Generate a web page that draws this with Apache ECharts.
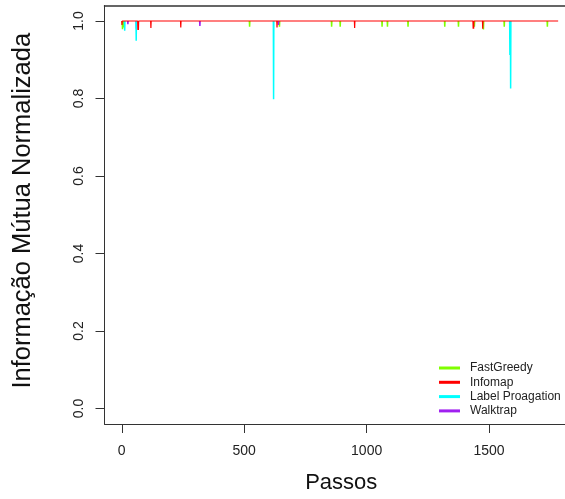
<!DOCTYPE html>
<html>
<head>
<meta charset="utf-8">
<style>
  html, body { margin: 0; padding: 0; background: #fff; }
  #chart { width: 565px; height: 499px; }
</style>
<script src="https://cdn.jsdelivr.net/npm/echarts@6/dist/echarts.min.js"></script>
</head>
<body>
<div id="chart"></div>
<script>
// Normalized mutual information per step, for four community detection methods.
// Every series sits at 1.0 except for the listed dips: [step, value].
const lastStep = 1782;
const seriesNames = ['FastGreedy', 'Infomap', 'Label Proagation', 'Walktrap'];
const seriesColors = ['#7FFF00', '#FF0000', '#00FFFF', '#A020F0'];

const fastGreedyDips = [
  [3, 0.979], [7, 0.983], [522, 0.985], [644, 0.985], [857, 0.985], [892, 0.985],
  [1063, 0.985], [1085, 0.985], [1169, 0.985], [1319, 0.985], [1375, 0.985],
  [1440, 0.985], [1477, 0.978], [1562, 0.985], [1738, 0.985]
];
const infomapDips = [
  [1, 0.99], [66, 0.977], [68, 0.977], [119, 0.982], [241, 0.983], [634, 0.983],
  [951, 0.982], [1435, 0.98], [1437, 0.98], [1474, 0.98]
];
const labelPropDips = [
  [12, 0.975], [59, 0.949], [620, 0.798], [1585, 0.912], [1588, 0.826]
];
const walktrapDips = [
  [25, 0.992], [60, 0.98], [319, 0.987], [640, 0.99]
];

const xTicks = [0, 500, 1000, 1500];
const yTicks = [0, 0.2, 0.4, 0.6, 0.8, 1.0];

// Full line along the 1.0 baseline with the dips in place.
function buildLine(dips) {
  const pts = [[0, 1]];
  dips.forEach(([s, v]) => {
    pts.push([s - 1, 1], [s, v], [s + 1, 1]);
  });
  pts.push([lastStep, 1]);
  return pts;
}

// Only the dips, as separate short segments (the baseline itself is shared).
function buildDipSegments(dips) {
  const pts = [];
  dips.forEach(([s, v]) => {
    pts.push([s - 1, 1], [s, v], [s + 1, 1], null);
  });
  return pts;
}

const dipsByName = {
  'FastGreedy': fastGreedyDips,
  'Infomap': infomapDips,
  'Label Proagation': labelPropDips,
  'Walktrap': walktrapDips
};

// Drawing order: Infomap last, its full line carries the baseline.
const drawOrder = ['FastGreedy', 'Walktrap', 'Label Proagation', 'Infomap'];

const font = "'Liberation Sans', Arial, sans-serif";
const chart = echarts.init(document.getElementById('chart'), null, { renderer: 'canvas' });

const axisColor = '#333';

chart.setOption({
  animation: false,
  backgroundColor: '#fff',
  color: seriesColors,
  grid: { left: 104.5, top: 5.5, right: 0, bottom: 74.5, show: false },
  legend: {
    data: seriesNames.map((n, i) => ({ name: n, itemStyle: { color: seriesColors[i] } })),
    orient: 'vertical',
    left: 439, top: 362, padding: 0,
    itemWidth: 21, itemHeight: 3, itemGap: 2.3,
    icon: 'rect',
    selectedMode: false,
    textStyle: { fontFamily: font, fontSize: 12, color: '#222', lineHeight: 12, padding: [0, 0, 0, 5] }
  },
  xAxis: [{
    type: 'value',
    min: -70.5, max: 1810,
    name: 'Passos', nameLocation: 'middle', nameGap: 48,
    nameTextStyle: { fontFamily: font, fontSize: 22, color: '#111', padding: [0, 0, 0, 13] },
    axisLine: { show: true, onZero: false, lineStyle: { color: axisColor, width: 1 } },
    axisTick: { show: true, customValues: xTicks, length: 9, lineStyle: { color: axisColor } },
    axisLabel: {
      customValues: xTicks, margin: 20, fontFamily: font, fontSize: 14, color: '#222',
      formatter: v => String(v)
    },
    splitLine: { show: false }
  }, {
    // top edge of the plot box
    type: 'value', position: 'top',
    min: -70.5, max: 1810,
    axisLine: { show: true, onZero: false, lineStyle: { color: axisColor, width: 1.5 } },
    axisTick: { show: false }, axisLabel: { show: false }, splitLine: { show: false }
  }],
  yAxis: {
    type: 'value',
    min: -0.04, max: 1.04,
    name: 'Informação Mútua Normalizada', nameLocation: 'middle', nameGap: 69,
    nameTextStyle: { fontFamily: font, fontSize: 25.5, color: '#111', padding: [0, 0, 0, 8] },
    axisLine: { show: true, onZero: false, lineStyle: { color: axisColor, width: 1 } },
    axisTick: { show: true, customValues: yTicks, length: 9, lineStyle: { color: axisColor } },
    axisLabel: {
      customValues: yTicks, rotate: 90, margin: 18,
      fontFamily: font, fontSize: 14, color: '#222',
      formatter: v => v.toFixed(1)
    },
    splitLine: { show: false }
  },
  series: drawOrder.map((name, k) => {
    const color = seriesColors[seriesNames.indexOf(name)];
    const isBase = name === 'Infomap';
    return {
      name: name,
      type: 'line',
      data: isBase ? buildLine(dipsByName[name]) : buildDipSegments(dipsByName[name]),
      connectNulls: false,
      showSymbol: false,
      symbol: 'none',
      z: 2 + k,
      lineStyle: { width: isBase ? 1.2 : 1.5, color: color },
      itemStyle: { color: color },
      emphasis: { disabled: true }
    };
  })
});
</script>
</body>
</html>
